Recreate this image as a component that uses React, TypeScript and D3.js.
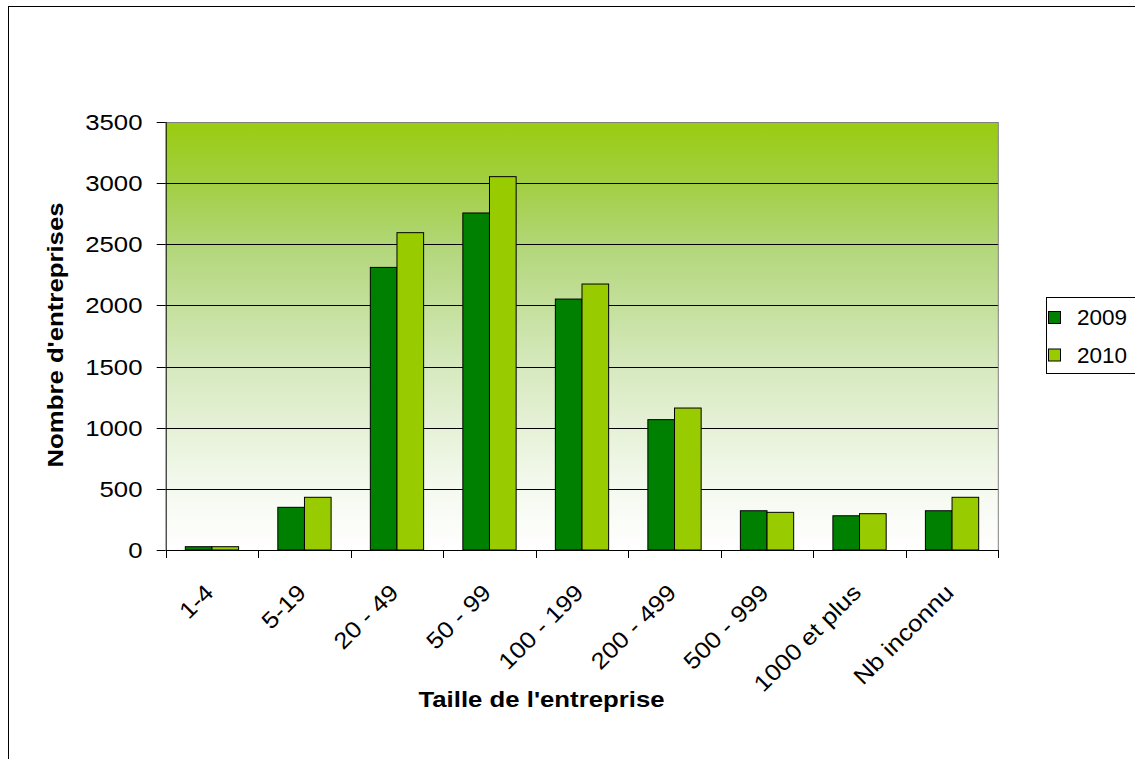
import React, { useEffect } from "react";
import * as d3 from "d3";

const categories = ["1-4", "5-19", "20 - 49", "50 - 99", "100 - 199", "200 - 499", "500 - 999", "1000 et plus", "Nb inconnu"];
const seriesNames = ["2009", "2010"];
const values2009 = [27, 349, 2311, 2756, 2052, 1066, 321, 280, 321];
const values2010 = [27, 431, 2595, 3053, 2175, 1161, 308, 297, 431];
const yTicks = [0, 500, 1000, 1500, 2000, 2500, 3000, 3500];
const seriesColors = ["#008000", "#99CC00"];

const W = 1135;
const H = 759;
const plot = { left: 165.7, right: 998.3, top: 122, bottom: 550 };
const FONT = "'Liberation Sans', Arial, Helvetica, sans-serif";
const SX = 1.12;
const FS = 23;

export default function App() {
  useEffect(() => {
    document.body.style.margin = "0";
  }, []);

  const x0 = d3.scaleBand<string>().domain(categories).range([plot.left, plot.right]).paddingInner(0).paddingOuter(0);
  const bw = x0.bandwidth();
  const gap = bw * 0.212;
  const x1 = d3.scaleBand<string>().domain(seriesNames).range([gap, bw - gap]).padding(0);
  const y = d3.scaleLinear().domain([0, 3500]).range([plot.bottom, plot.top]);
  const seriesValues = [values2009, values2010];

  const boundaries = d3.range(categories.length + 1).map((i) => plot.left + i * bw);

  return (
    <svg width={W} height={H} style={{ position: "absolute", left: 0, top: 0, background: "#fff" }} fontFamily={FONT}>
      <defs>
        <linearGradient id="bg" x1="0" y1="0" x2="0" y2="1">
          <stop offset="0" stopColor="#99CC0F" />
          <stop offset="0.15" stopColor="#A2CF45" />
          <stop offset="0.3" stopColor="#B3D77C" />
          <stop offset="0.57" stopColor="#D6E9BE" />
          <stop offset="0.85" stopColor="#F4F9EE" />
          <stop offset="1" stopColor="#FFFFFF" />
        </linearGradient>
      </defs>
      {/* outer frame */}
      <rect x={8.5} y={6.5} width={W + 20} height={H + 20} fill="#fff" stroke="#000" strokeWidth={1} />
      {/* plot background */}
      <rect x={plot.left} y={plot.top} width={plot.right - plot.left} height={plot.bottom - plot.top} fill="url(#bg)" />
      {/* gridlines */}
      {yTicks.slice(1, -1).map((t) => (
        <line key={t} x1={plot.left} x2={plot.right} y1={Math.round(y(t)) + 0.5} y2={Math.round(y(t)) + 0.5} stroke="#000" strokeWidth={1} />
      ))}
      {/* plot border top/right */}
      <line x1={plot.left} x2={plot.right} y1={plot.top + 0.5} y2={plot.top + 0.5} stroke="#808080" strokeWidth={1} />
      <line x1={plot.right} x2={plot.right} y1={plot.top} y2={plot.bottom} stroke="#808080" strokeWidth={1} />
      {/* bars */}
      {categories.map((c, i) => (
        <g key={c} transform={`translate(${x0(c)},0)`}>
          {seriesNames.map((s, j) => (
            <rect
              key={s}
              x={x1(s)!}
              y={y(seriesValues[j][i])}
              width={x1.bandwidth()}
              height={y(0) - y(seriesValues[j][i])}
              fill={seriesColors[j]}
              stroke="#000"
              strokeWidth={1}
            />
          ))}
        </g>
      ))}
      {/* axes */}
      <line x1={plot.left + 0.5} x2={plot.left + 0.5} y1={plot.top} y2={plot.bottom} stroke="#000" strokeWidth={1} />
      <line x1={plot.left} x2={plot.right} y1={plot.bottom + 0.5} y2={plot.bottom + 0.5} stroke="#000" strokeWidth={1} />
      {yTicks.map((t) => (
        <g key={t}>
          <line x1={plot.left - 9} x2={plot.left} y1={Math.round(y(t)) + 0.5} y2={Math.round(y(t)) + 0.5} stroke="#000" strokeWidth={1} />
          <text
            transform={`translate(142.5,${y(t)}) scale(${SX},1)`}
            textAnchor="end"
            dominantBaseline="central"
            fontSize={FS}
            fill="#000"
          >
            {t}
          </text>
        </g>
      ))}
      {boundaries.map((bx, i) => (
        <line key={i} x1={Math.round(bx) + 0.5} x2={Math.round(bx) + 0.5} y1={plot.bottom} y2={plot.bottom + 8} stroke="#000" strokeWidth={1} />
      ))}
      {categories.map((c) => (
        <text
          key={c}
          transform={`translate(${x0(c)! + bw / 2 + 3},594) rotate(-45) scale(${SX},1)`}
          textAnchor="end"
          fontSize={FS}
          fill="#000"
        >
          {c}
        </text>
      ))}
      {/* axis titles */}
      <text transform={`translate(541.5,707) scale(${SX},1)`} textAnchor="middle" fontSize={FS} fontWeight="bold" fill="#000">
        Taille de l'entreprise
      </text>
      <text transform={`translate(63,335) rotate(-90) scale(${SX},1)`} textAnchor="middle" fontSize={FS} fontWeight="bold" fill="#000">
        Nombre d'entreprises
      </text>
      {/* legend */}
      <rect x={1046.5} y={297.5} width={120} height={76} fill="#fff" stroke="#000" strokeWidth={1} />
      {seriesNames.map((s, j) => (
        <g key={s}>
          <rect x={1048.5} y={311.5 + j * 37.5} width={12} height={12} fill={seriesColors[j]} stroke="#000" strokeWidth={1} />
          <text x={1077} y={317.5 + j * 37.5} dominantBaseline="central" fontSize={22.5} fill="#000">
            {s}
          </text>
        </g>
      ))}
    </svg>
  );
}
